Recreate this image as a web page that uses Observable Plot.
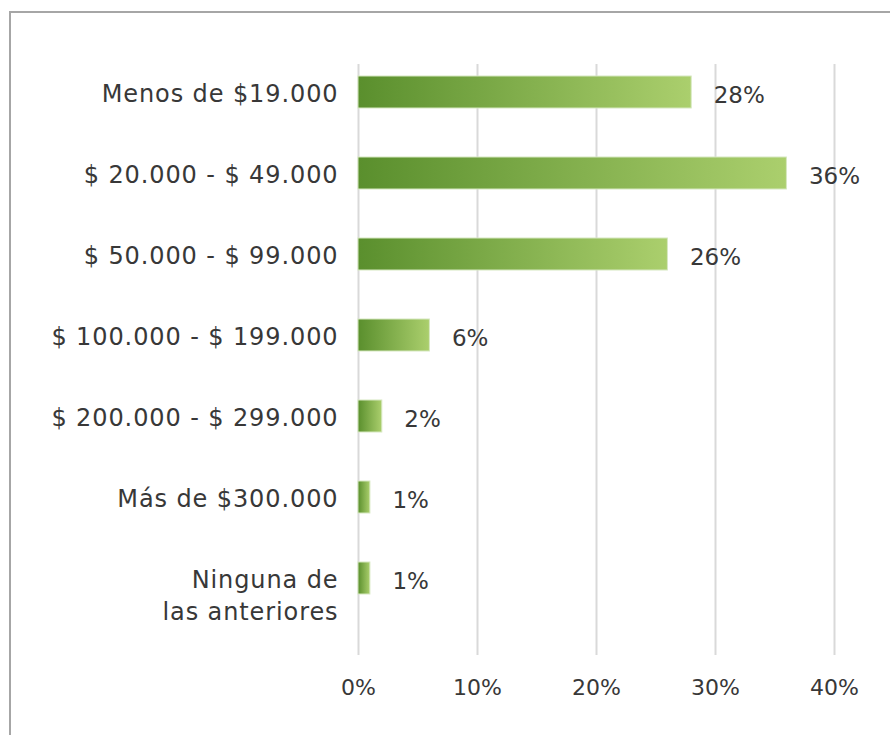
<!DOCTYPE html>
<html>
<head>
<meta charset="utf-8">
<script src="https://cdn.jsdelivr.net/npm/d3@7"></script>
<script src="https://cdn.jsdelivr.net/npm/@observablehq/plot@0.6"></script>
<style>
  html, body { margin: 0; padding: 0; background: #fff; width: 890px; height: 735px; overflow: hidden; }
  #frame { position: absolute; left: 9px; top: 11px; width: 1000px; height: 1000px; border-left: 2px solid #a6a6a6; border-top: 2px solid #a6a6a6; }
  #chart { position: absolute; left: 0; top: 0; }
  #chart g[aria-label="y-axis tick label"] text { letter-spacing: 0.9px; }
</style>
</head>
<body>
<div id="frame"></div>
<div id="chart"></div>
<script>
const categories = [
  "Menos de $19.000",
  "$ 20.000 - $ 49.000",
  "$ 50.000 - $ 99.000",
  "$ 100.000 - $ 199.000",
  "$ 200.000 - $ 299.000",
  "Más de $300.000",
  "Ninguna de\nlas anteriores"
];
const values = [28, 36, 26, 6, 2, 1, 1];
const xTicks = [0, 10, 20, 30, 40];

const data = categories.map((c, i) => ({category: c, value: values[i]}));
const FONT = "DejaVu Sans, Verdana, sans-serif";

const chart = Plot.plot({
  width: 890,
  height: 735,
  marginLeft: 358,
  marginRight: 56,
  marginTop: 64,
  marginBottom: 80,
  style: {fontFamily: FONT, fontSize: "23px", color: "#383838", background: "transparent"},
  x: {domain: [0, 40], ticks: xTicks, tickFormat: d => d + "%", label: null},
  y: {domain: categories, range: [51.5, 618.5], paddingInner: 0.6, paddingOuter: 0.3, label: null},
  marks: [
    () => {
      const svg = d3.create("svg:defs");
      const g = svg.append("linearGradient").attr("id", "barGrad").attr("x1", "0").attr("x2", "1").attr("y1", "0").attr("y2", "0");
      g.append("stop").attr("offset", "0%").attr("stop-color", "#5a8f2d");
      g.append("stop").attr("offset", "100%").attr("stop-color", "#abcf6d");
      return svg.node();
    },
    Plot.gridX(xTicks, {stroke: "#d9d9d9", strokeOpacity: 1, strokeWidth: 2}),
    Plot.axisX({ticks: xTicks, tickFormat: d => d + "%", tickSize: 0, tickPadding: 24, fontSize: 22, fill: "#383838", label: null}),
    Plot.axisY({tickSize: 0, tickPadding: 20, fontSize: 24, fill: "#383838", lineAnchor: "top", dy: -13, lineHeight: 1.33, label: null}),
    Plot.barX(data, {x: "value", y: "category", fill: "url(#barGrad)", stroke: "#d6e8c0", strokeWidth: 1}),
    Plot.text(data, {x: "value", y: "category", text: d => d.value + "%", textAnchor: "start", dx: 22, dy: 3, fontSize: 23, fill: "#383838"})
  ]
});
document.getElementById("chart").appendChild(chart);
</script>
</body>
</html>
